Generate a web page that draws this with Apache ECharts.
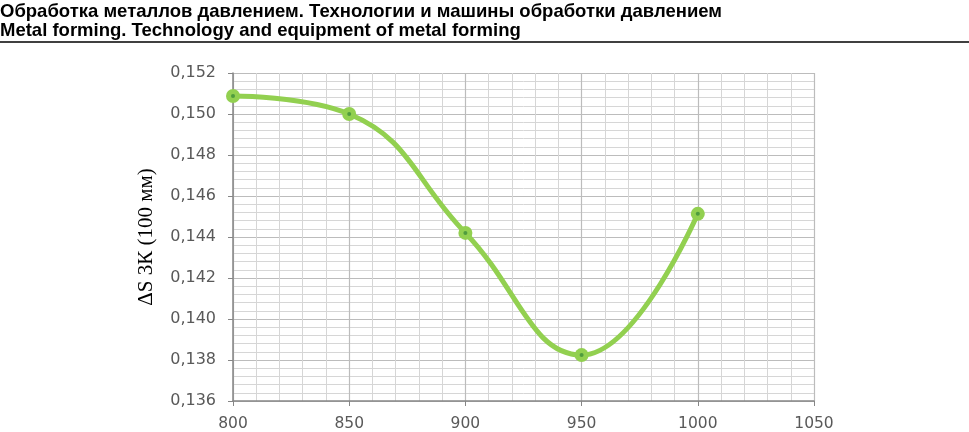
<!DOCTYPE html>
<html>
<head>
<meta charset="utf-8">
<script src="https://cdn.jsdelivr.net/npm/echarts@6/dist/echarts.min.js"></script>
<style>
  html, body { margin: 0; padding: 0; background: #fff; }
  #main { width: 969px; height: 432px; }
</style>
</head>
<body>
<div id="main"></div>
<script>
// температура (x) и ΔS 3К (y)
var temps = [800, 850, 900, 950, 1000];
var dS = [0.15088, 0.15000, 0.14420, 0.13824, 0.14513];
var headerLines = [
  'Обработка металлов давлением. Технологии и машины обработки давлением',
  'Metal forming. Technology and equipment of metal forming'
];
var yTitle = 'ΔS 3К (100 мм)';

var chart = echarts.init(document.getElementById('main'));
var pts = temps.map(function (t, i) { return [t, dS[i]]; });

var option = {
  animation: false,
  grid: { left: 233, right: 155, top: 73, bottom: 30 },
  graphic: [
    { type: 'text', left: 0, top: 2,
      style: { text: headerLines[0], font: 'bold 18.5px "Liberation Sans"', fill: '#000' } },
    { type: 'text', left: 0, top: 21,
      style: { text: headerLines[1], font: 'bold 18.5px "Liberation Sans"', fill: '#000' } },
    { type: 'line', shape: { x1: 0, y1: 42, x2: 969, y2: 42 },
      style: { stroke: '#000', lineWidth: 1.5 } }
  ],
  xAxis: {
    type: 'value',
    min: 800, max: 1050, interval: 50,
    axisLine: { lineStyle: { color: '#868686', width: 1.5 } },
    axisTick: { show: true, length: 5, lineStyle: { color: '#868686' } },
    axisLabel: {
      color: '#595959', fontFamily: 'DejaVu Sans', fontSize: 15.5, margin: 15,
      formatter: function (v) { return String(v); }
    },
    splitLine: { show: true, lineStyle: { color: '#bcbcbc', width: 1.2 } },
    minorTick: { show: true, splitNumber: 5, length: 0 },
    minorSplitLine: { show: true, lineStyle: { color: '#d6d6d6', width: 1 } }
  },
  yAxis: {
    type: 'value',
    min: 0.136, max: 0.152, interval: 0.002,
    name: yTitle,
    nameLocation: 'middle',
    nameGap: 76,
    nameTextStyle: { fontFamily: 'Liberation Serif', fontSize: 21, color: '#000' },
    axisLine: { show: true, lineStyle: { color: '#868686', width: 1.5 } },
    axisTick: { show: true, length: 5, lineStyle: { color: '#868686' } },
    axisLabel: {
      color: '#595959', fontFamily: 'DejaVu Sans', fontSize: 16, margin: 17,
      formatter: function (v) { return v.toFixed(3).replace('.', ','); }
    },
    splitLine: { show: true, lineStyle: { color: '#bcbcbc', width: 1.2 } },
    minorTick: { show: true, splitNumber: 5, length: 0 },
    minorSplitLine: { show: true, lineStyle: { color: '#d6d6d6', width: 1 } }
  },
  series: [
    {
      type: 'line',
      data: pts,
      smooth: 0.45,
      symbol: 'circle',
      symbolSize: 14,
      itemStyle: { color: '#92d050' },
      lineStyle: { color: '#92d050', width: 5 }
    },
    {
      type: 'scatter',
      data: pts,
      symbol: 'circle',
      symbolSize: 4,
      itemStyle: { color: '#3f8f3a' },
      z: 5
    }
  ]
};
chart.setOption(option);
</script>
</body>
</html>
